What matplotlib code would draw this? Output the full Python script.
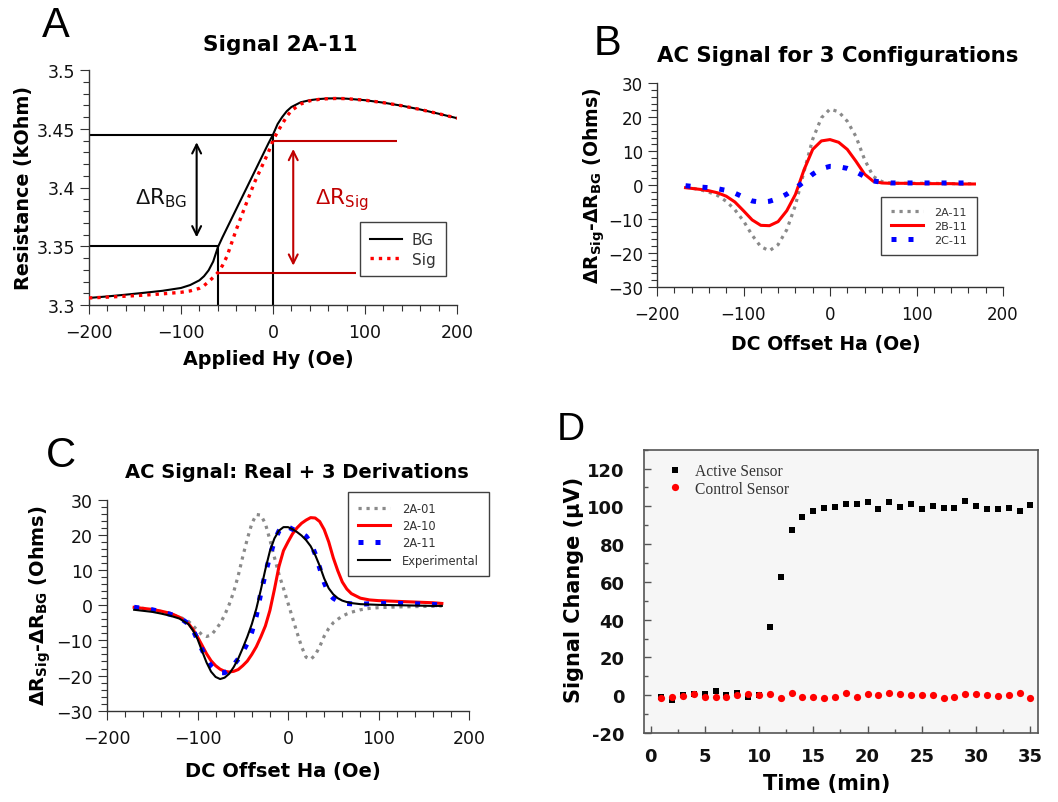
import matplotlib
matplotlib.use('Agg')
import matplotlib.pyplot as plt
from matplotlib.ticker import MultipleLocator, FixedLocator, FixedFormatter

# ---------------- Panel A data ----------------
a_field = [-200, -180, -160, -140, -120, -100, -90, -80, -75, -70, -65, -60, -55, -50,
           -40, -30, -20, -10, -5, 0, 5, 10, 15, 20, 30, 40, 50, 60, 70, 80,
           100, 120, 140, 160, 180, 200]
a_bg = [3.3060, 3.3073, 3.3088, 3.3104, 3.3121, 3.3145, 3.3170, 3.3210, 3.3245, 3.3295,
        3.3370, 3.3490, 3.3575, 3.3655, 3.3815, 3.3975, 3.4135, 3.4295, 3.4375, 3.4450,
        3.4540, 3.4600, 3.4650, 3.4685, 3.4725, 3.4743, 3.4753, 3.4758, 3.4759, 3.4756,
        3.4743, 3.4722, 3.4696, 3.4664, 3.4628, 3.4590]
a_sig = [3.3060, 3.3067, 3.3075, 3.3084, 3.3095, 3.3108, 3.3120, 3.3142, 3.3165, 3.3198,
         3.3235, 3.3275, 3.3335, 3.3415, 3.3640, 3.3845, 3.4045, 3.4215, 3.4300, 3.4400,
         3.4475, 3.4540, 3.4605, 3.4655, 3.4710, 3.4738, 3.4750, 3.4756, 3.4758, 3.4756,
         3.4743, 3.4722, 3.4696, 3.4664, 3.4628, 3.4590]
a_yticks = [3.3, 3.35, 3.4, 3.45, 3.5]
a_yticklabels = ['3.3', '3.35', '3.4', '3.45', '3.5']
a_bias_fields = [-60, 0]            # DC offsets used for the delta construction
a_bg_levels = [3.350, 3.445]        # BG resistance at those fields
a_sig_levels = [3.327, 3.440]       # Sig resistance at those fields
a_sig_line_ends = [90, 135]         # right ends of the red guide lines
a_arrow_x = [-83, 22]               # x of BG / Sig double arrows
a_arrow_bg = [3.3576, 3.4385]
a_arrow_sig = [3.3335, 3.4328]

# ---------------- Panel B data ----------------
b_field = [-167, -160, -150, -140, -130, -120, -110, -100, -90, -80, -70, -60, -50, -40,
           -30, -20, -10, 0, 10, 20, 30, 40, 50, 60, 70, 80, 90, 100, 110, 120, 130, 140,
           150, 160, 167]
b_2a11 = [-0.6, -0.9, -1.4, -2.1, -3.1, -4.8, -7.3, -10.6, -14.8, -18.2, -19.4, -17.6,
          -13.2, -6.0, 4.0, 13.5, 19.8, 22.4, 21.6, 18.8, 14.3, 7.5, 2.5, 1.0, 0.6, 0.5,
          0.5, 0.5, 0.5, 0.5, 0.4, 0.4, 0.4, 0.4, 0.4]
b_2b11 = [-0.8, -1.0, -1.3, -1.7, -2.3, -3.3, -5.0, -7.6, -10.3, -11.9, -12.0, -10.8,
          -7.6, -2.8, 4.5, 10.5, 13.0, 13.4, 12.6, 10.5, 7.0, 3.2, 1.1, 0.6, 0.5, 0.5,
          0.5, 0.4, 0.4, 0.4, 0.4, 0.4, 0.3, 0.3, 0.3]
b_2c11 = [-0.2, -0.4, -0.6, -0.8, -1.1, -1.6, -2.4, -3.6, -4.7, -5.1, -4.8, -4.0,
          -2.7, -1.0, 1.0, 3.2, 4.8, 5.5, 5.4, 4.9, 3.9, 2.5, 1.2, 0.8, 0.6, 0.6,
          0.6, 0.6, 0.6, 0.6, 0.6, 0.6, 0.6, 0.6, 0.6]

# ---------------- Panel C data ----------------
c_field = [-170, -160, -150, -140, -130, -120, -110, -105, -100, -95, -90, -85, -80, -75,
           -70, -65, -60, -55, -50, -45, -40, -35, -30, -25, -20, -15, -10, -5, 0, 5,
           10, 15, 20, 25, 30, 35, 40, 45, 50, 55, 60, 65, 70, 80, 90, 100, 120, 140,
           160, 170]
c_2a01 = [-0.6, -0.9, -1.3, -1.8, -2.5, -3.3, -4.6, -5.8, -7.2, -8.4, -8.9, -8.5, -7.0,
          -5.2, -2.8, 0.2, 3.8, 8.4, 13.8, 18.8, 23.2, 25.8, 25.6, 23.2, 18.6, 13.6, 8.8,
          4.8, 0.6, -3.6, -7.8, -11.8, -14.8, -15.4, -14.2, -11.8, -8.8, -6.6, -5.0,
          -4.0, -3.1, -2.5, -2.0, -1.3, -0.9, -0.7, -0.5, -0.4, -0.3, -0.2]
c_2a10 = [-0.6, -0.9, -1.2, -1.7, -2.3, -3.4, -5.2, -6.9, -9.0, -11.4, -13.8, -15.8,
          -17.2, -18.2, -18.8, -19.0, -18.8, -18.3, -17.2, -15.9, -14.0, -11.8, -9.0,
          -5.9, -1.5, 4.5, 11.0, 15.5, 18.0, 20.3, 22.0, 23.3, 24.2, 24.9, 24.8, 23.8,
          21.5, 18.0, 13.5, 9.8, 6.6, 4.6, 3.3, 2.0, 1.5, 1.3, 1.1, 0.9, 0.7, 0.5]
c_2a11 = [-0.6, -0.9, -1.3, -1.9, -2.6, -3.5, -5.3, -7.0, -9.8, -12.6, -15.3, -17.3,
          -18.6, -19.2, -19.2, -18.3, -17.0, -15.3, -13.3, -10.8, -7.6, -3.0, 3.5, 9.0,
          14.0, 18.3, 21.1, 22.4, 22.3, 21.6, 21.0, 20.5, 19.6, 17.8, 14.6, 10.6, 6.5,
          3.4, 2.0, 1.2, 0.7, 0.5, 0.4, 0.3, 0.4, 0.5, 0.5, 0.4, 0.2, 0.1]
c_exp = [-1.3, -1.6, -1.9, -2.4, -3.0, -3.8, -5.4, -7.2, -9.6, -13.0, -16.3, -18.9,
         -20.4, -21.0, -20.6, -19.5, -17.6, -15.2, -12.2, -9.0, -5.4, -1.0, 4.4, 10.2,
         15.4, 19.0, 21.2, 22.2, 22.2, 21.6, 20.8, 19.8, 18.5, 16.8, 14.3, 11.2, 7.6,
         4.8, 3.1, 2.0, 1.3, 0.9, 0.6, 0.3, 0.2, 0.1, 0.0, -0.1, -0.2, -0.2]

# ---------------- Panel D data ----------------
d_time = list(range(1, 36))
d_active = [-0.8, -2.3, 0.0, 0.5, 0.5, 2.5, 0.0, 1.0, -1.2, 0.3,
            35.9, 62.5, 87.7, 94.5, 97.7, 98.9, 99.6, 101.2, 101.1, 102.1,
            98.8, 102.5, 99.8, 101.1, 98.4, 100.4, 98.9, 99.1, 102.6, 100.4,
            98.4, 98.4, 99.1, 97.5, 100.7]
d_control = [-1.4, -0.9, -0.5, 0.4, -0.9, -1.2, -0.9, 0.2, 0.5, 0.0,
             0.5, -1.4, 1.2, -0.9, -0.7, -1.6, -1.1, 1.2, -1.2, 0.4,
             0.0, 1.2, 0.4, 0.0, 0.2, 0.0, -1.6, -0.9, 0.7, 0.4,
             0.0, -0.2, 0.0, 1.1, -1.4]
d_xticks = [0, 5, 10, 15, 20, 25, 30, 35]
d_yticks = [-20, 0, 20, 40, 60, 80, 100, 120]
d_yticklabels = ['-20', '0', '20', '40', '60', '80', '100', '120']

# ---------------- figure ----------------
W, H = 1058, 803
plt.rcParams['font.family'] = ['DejaVu Sans']
plt.rcParams['mathtext.fontset'] = 'custom'
plt.rcParams['mathtext.rm'] = 'Liberation Sans'
plt.rcParams['mathtext.it'] = 'Liberation Sans:italic'
plt.rcParams['mathtext.bf'] = 'Liberation Sans:bold'

fig = plt.figure(figsize=(W / 100, H / 100), dpi=100)


def axes_px(x0, y0, x1, y1):
    return fig.add_axes([x0 / W, 1 - y1 / H, (x1 - x0) / W, (y1 - y0) / H])


def ftext(x, y, s, **kw):
    return fig.text(x / W, 1 - y / H, s, **kw)


def style_open(ax, xmin_step, ymaj, ymin_step, fs, xpad, ypad):
    for s in ('top', 'right'):
        ax.spines[s].set_visible(False)
    for s in ('left', 'bottom'):
        ax.spines[s].set_color('#333333')
        ax.spines[s].set_linewidth(1.0)
    ax.xaxis.set_major_locator(MultipleLocator(100))
    ax.xaxis.set_minor_locator(MultipleLocator(xmin_step))
    if ymaj is not None:
        ax.yaxis.set_major_locator(MultipleLocator(ymaj))
    ax.yaxis.set_minor_locator(MultipleLocator(ymin_step))
    ax.tick_params(which='both', direction='out', color='#333333', width=0.8,
                   labelsize=fs, labelcolor='#111111')
    ax.tick_params(which='major', length=6.5)
    ax.tick_params(which='minor', length=4)
    ax.tick_params(axis='x', which='major', pad=xpad)
    ax.tick_params(axis='y', which='major', pad=ypad)


def legend_px(ax, x, y, fs, bp, ls, hl, htp):
    leg = ax.legend(loc='upper left', bbox_to_anchor=(x / W, 1 - y / H),
                    bbox_transform=fig.transFigure, borderaxespad=0, fontsize=fs,
                    frameon=True, fancybox=False, framealpha=1, edgecolor='#404040',
                    borderpad=bp, labelspacing=ls, handlelength=hl, handletextpad=htp)
    leg.get_frame().set_linewidth(1.0)
    for t in leg.get_texts():
        t.set_color('#333333')
    return leg


BLUE = '#0000ff'
RED = '#ff0000'
DARKRED = '#c00000'
GRAY = '#8a8a8a'
DOT = (0, (1, 1.5))
SQ = (0, (1, 2.4))

# ---------------- Panel A ----------------
axA = axes_px(89, 71, 457, 306)
axA.plot(a_field, a_bg, color='black', lw=1.5, label='BG', zorder=4)
axA.plot(a_field, a_sig, color=RED, lw=2.4, ls=DOT, label='Sig', zorder=5)
axA.set_xlim(-200, 200)
axA.set_ylim(3.3, 3.5)
style_open(axA, 20, None, 0.01, 12.5, 6.5, 3.5)
axA.yaxis.set_major_locator(FixedLocator(a_yticks))
axA.yaxis.set_major_formatter(FixedFormatter(a_yticklabels))
x_left = axA.get_xlim()[0]
y_bot = axA.get_ylim()[0]
for f, lv in zip(a_bias_fields, a_bg_levels):
    axA.plot([x_left, f], [lv, lv], color='black', lw=1.5, solid_capstyle='butt')
    axA.plot([f, f], [y_bot, lv], color='black', lw=1.5, solid_capstyle='butt')
for f, lv, xe in zip(a_bias_fields, a_sig_levels, a_sig_line_ends):
    axA.plot([f, xe], [lv, lv], color=DARKRED, lw=1.5, solid_capstyle='butt')
axA.annotate('', xy=(a_arrow_x[0], a_arrow_bg[1]), xytext=(a_arrow_x[0], a_arrow_bg[0]),
             arrowprops=dict(arrowstyle='<->', color='black', lw=1.5,
                             mutation_scale=16, shrinkA=0, shrinkB=0))
axA.annotate('', xy=(a_arrow_x[1], a_arrow_sig[1]), xytext=(a_arrow_x[1], a_arrow_sig[0]),
             arrowprops=dict(arrowstyle='<->', color=DARKRED, lw=1.5,
                             mutation_scale=16, shrinkA=0, shrinkB=0))
ftext(135, 204, r'$\Delta\mathregular{R}_{\mathregular{BG}}$', fontsize=15.5,
      color='#111111', ha='left', va='baseline', math_fontfamily='custom')
ftext(315, 204, r'$\Delta\mathregular{R}_{\mathregular{Sig}}$', fontsize=15.5,
      color=DARKRED, ha='left', va='baseline', math_fontfamily='custom')
legend_px(axA, 360, 223, 11, 0.65, 0.3, 2.1, 0.65)
ftext(280.7, 50.7, 'Signal 2A-11', fontsize=15.6, fontweight='bold', ha='center',
      va='baseline')
ftext(268.7, 365, 'Applied Hy (Oe)', fontsize=13.8, fontweight='bold', ha='center',
      va='baseline')
ftext(24, 187.5, 'Resistance (kOhm)', fontsize=13.8, fontweight='bold', ha='center',
      va='center', rotation=90)
ftext(42, 37, 'A', fontsize=30, family='Liberation Sans', ha='left', va='baseline')

# ---------------- Panel B ----------------
axB = axes_px(657, 84.3, 1003, 287.7)
axB.plot(b_field, b_2a11, color=GRAY, lw=2.3, ls=DOT, label='2A-11')
axB.plot(b_field, b_2b11, color=RED, lw=2.2, label='2B-11')
axB.plot(b_field, b_2c11, color=BLUE, lw=3.6, ls=SQ, label='2C-11')
axB.set_xlim(-200, 200)
axB.set_ylim(-30, 30)
style_open(axB, 20, 10, 2, 12, 7, 3.5)
legend_px(axB, 881, 198.3, 8, 0.9, 0.33, 2.85, 1.05)
ftext(838, 61.7, 'AC Signal for 3 Configurations', fontsize=15.3, fontweight='bold',
      ha='center', va='baseline')
ftext(826, 350, 'DC Offset Ha (Oe)', fontsize=13.6, fontweight='bold', ha='center',
      va='baseline')
ftext(594, 186, r'$\mathbf{\Delta R}_{\mathregular{Sig}}$-$\mathbf{\Delta R}_{\mathregular{BG}}$ (Ohms)',
      fontsize=13.6, fontweight='bold', ha='center', va='center', rotation=90,
      math_fontfamily='dejavusans')
ftext(594, 55, 'B', fontsize=30, family='Liberation Sans', ha='left', va='baseline')

# ---------------- Panel C ----------------
axC = axes_px(107, 500.7, 469, 711.7)
axC.plot(c_field, c_2a01, color=GRAY, lw=2.3, ls=DOT, label='2A-01')
axC.plot(c_field, c_2a10, color=RED, lw=2.2, label='2A-10')
axC.plot(c_field, c_2a11, color=BLUE, lw=3.6, ls=SQ, label='2A-11')
axC.plot(c_field, c_exp, color='black', lw=1.5, label='Experimental')
axC.set_xlim(-200, 200)
axC.set_ylim(-30, 30)
style_open(axC, 20, 10, 2, 12.5, 7, 3.5)
legC = legend_px(axC, 348.3, 493.3, 8.3, 0.85, 0.36, 2.75, 1.07)
legC.set_clip_on(False)
ftext(296.7, 478.3, 'AC Signal: Real + 3 Derivations', fontsize=14, fontweight='bold',
      ha='center', va='baseline')
ftext(283, 776.7, 'DC Offset Ha (Oe)', fontsize=14, fontweight='bold', ha='center',
      va='baseline')
ftext(40, 606, r'$\mathbf{\Delta R}_{\mathregular{Sig}}$-$\mathbf{\Delta R}_{\mathregular{BG}}$ (Ohms)',
      fontsize=13.9, fontweight='bold', ha='center', va='center', rotation=90,
      math_fontfamily='dejavusans')
ftext(46, 467, 'C', fontsize=30, family='Liberation Sans', ha='left', va='baseline')

# ---------------- Panel D ----------------
axD = axes_px(644, 450.7, 1037.5, 734)
axD.set_facecolor('#f6f6f6')
axD.plot(d_time, d_active, 's', color='black', ms=4.4, mew=0, label='Active Sensor')
axD.plot(d_time, d_control, 'o', color=RED, ms=5.2, mew=0, label='Control Sensor')
axD.set_xlim(-0.6, 35.65)
axD.set_ylim(-20, 130)
for s in axD.spines.values():
    s.set_color('#555555')
    s.set_linewidth(1.2)
axD.xaxis.set_major_locator(FixedLocator(d_xticks))
axD.xaxis.set_minor_locator(MultipleLocator(2.5))
axD.yaxis.set_major_locator(FixedLocator(d_yticks))
axD.yaxis.set_major_formatter(FixedFormatter(d_yticklabels))
axD.yaxis.set_minor_locator(MultipleLocator(10))
axD.tick_params(which='both', direction='in', color='#555555', width=1.0,
                labelsize=13, labelcolor='#111111')
axD.tick_params(which='major', length=5)
axD.tick_params(which='minor', length=3)
axD.tick_params(axis='y', which='major', pad=14)
axD.tick_params(axis='x', which='major', pad=10)
for t in axD.get_xticklabels() + axD.get_yticklabels():
    t.set_fontweight('bold')
legD = axD.legend(loc='upper left', bbox_to_anchor=(667.5 / W, 1 - 464 / H),
                  bbox_transform=fig.transFigure, borderaxespad=0, borderpad=0,
                  frameon=False, handlelength=1.0, handletextpad=0.75,
                  labelspacing=0.1, prop={'family': 'Liberation Serif', 'size': 11.2})
for t in legD.get_texts():
    t.set_color('#333333')
ftext(827, 790, 'Time (min)', fontsize=15, fontweight='bold', ha='center', va='baseline')
ftext(574, 590, 'Signal Change (μV)', fontsize=15, fontweight='bold', ha='center',
      va='center', rotation=90)
ftext(557, 440, 'D', fontsize=28, family='Liberation Sans', ha='left', va='baseline')

fig.savefig('out.png', dpi=100)
